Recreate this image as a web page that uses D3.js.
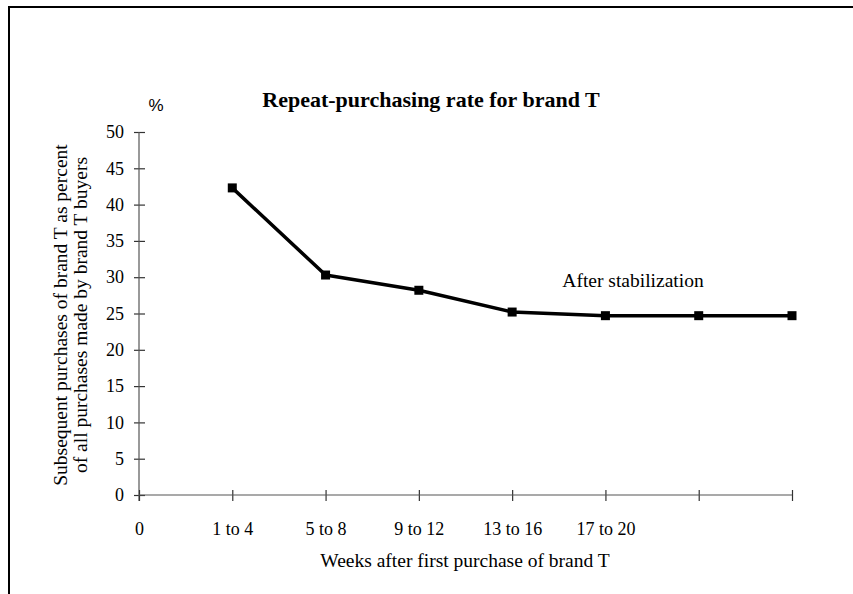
<!DOCTYPE html>
<html>
<head>
<meta charset="utf-8">
<script src="https://cdn.jsdelivr.net/npm/d3@7"></script>
<style>
  html, body { margin: 0; padding: 0; background: #fff; }
  svg { display: block; }
  text { font-family: "Liberation Serif", "Times New Roman", serif; fill: #000; }
</style>
</head>
<body>
<svg id="chart" width="853" height="594"></svg>
<script>
// Repeat-purchasing rate by weeks after first purchase
const periods = ["0", "1 to 4", "5 to 8", "9 to 12", "13 to 16", "17 to 20", "p7", "p8"];
const periodLabels = ["0", "1 to 4", "5 to 8", "9 to 12", "13 to 16", "17 to 20", "", ""];
const pointPeriods = ["1 to 4", "5 to 8", "9 to 12", "13 to 16", "17 to 20", "p7", "p8"];
const repeatRate = [42.3, 30.3, 28.2, 25.2, 24.7, 24.7, 24.7];
const yTicks = [0, 5, 10, 15, 20, 25, 30, 35, 40, 45, 50];

const svg = d3.select("#chart");

// frame: top and left edges
svg.append("line").attr("x1", 9).attr("y1", 7).attr("x2", 853).attr("y2", 7)
  .attr("stroke", "#000").attr("stroke-width", 2);
svg.append("line").attr("x1", 9).attr("y1", 6).attr("x2", 9).attr("y2", 594)
  .attr("stroke", "#000").attr("stroke-width", 2);

const x = d3.scalePoint().domain(periods).range([139, 792]);
const y = d3.scaleLinear().domain([0, 50]).range([495, 132]);

const axisColor = "#555";

// y axis
const yAxis = svg.append("g").attr("transform", "translate(139,0)")
  .call(d3.axisLeft(y).tickValues(yTicks).tickSize(5).tickPadding(10).tickFormat(d3.format("d")));
yAxis.select(".domain").remove();
yAxis.append("line").attr("x1", 0).attr("x2", 0).attr("y1", y(50)).attr("y2", 501)
  .attr("stroke", axisColor).attr("stroke-width", 1.2);
yAxis.selectAll(".tick line").attr("x1", -5).attr("x2", 6).attr("stroke", "#333").attr("stroke-width", 1.2);
yAxis.selectAll(".tick text").style("font-size", "18px").style("font-family", "Liberation Serif, serif").attr("fill", "#000");

// x axis
const xAxis = svg.append("g").attr("transform", "translate(0,495)")
  .call(d3.axisBottom(x).tickFormat((d, i) => periodLabels[i]).tickSize(6).tickPadding(21));
xAxis.select(".domain").remove();
xAxis.append("line").attr("x1", 139).attr("x2", 792).attr("y1", 0).attr("y2", 0)
  .attr("stroke", axisColor).attr("stroke-width", 1.2);
xAxis.selectAll(".tick line").attr("y1", -5).attr("y2", 6).attr("stroke", "#333").attr("stroke-width", 1.2);
xAxis.selectAll(".tick text").style("font-size", "18px").style("font-family", "Liberation Serif, serif").attr("fill", "#000");

// series line
const pts = pointPeriods.map((p, i) => [x(p), y(repeatRate[i])]);
svg.append("path").datum(pts)
  .attr("d", d3.line())
  .attr("fill", "none").attr("stroke", "#000").attr("stroke-width", 3.5)
  .attr("stroke-linejoin", "round");

svg.selectAll("rect.marker").data(pts).join("rect")
  .attr("class", "marker")
  .attr("x", d => d[0] - 4.5).attr("y", d => d[1] - 4.5)
  .attr("width", 9).attr("height", 9).attr("fill", "#000");

// titles and annotations
svg.append("text").attr("x", 431).attr("y", 107).attr("text-anchor", "middle")
  .style("font-size", "22px").style("font-weight", "bold")
  .text("Repeat-purchasing rate for brand T");

svg.append("text").attr("x", 156).attr("y", 111).attr("text-anchor", "middle")
  .style("font-size", "17px").style("font-family", "Liberation Sans, Arial, sans-serif")
  .text("%");

svg.append("text").attr("x", 633).attr("y", 287).attr("text-anchor", "middle")
  .style("font-size", "19.5px").text("After stabilization");

svg.append("text").attr("x", 465).attr("y", 567).attr("text-anchor", "middle")
  .style("font-size", "19.5px").text("Weeks after first purchase of brand T");

const yTitle = svg.append("text").attr("transform", "translate(0,315) rotate(-90)")
  .attr("text-anchor", "middle").style("font-size", "19.5px");
yTitle.append("tspan").attr("x", 0).attr("y", 67).text("Subsequent purchases of brand T as percent");
yTitle.append("tspan").attr("x", 0).attr("y", 87).text("of all purchases made by brand T buyers");
</script>
</body>
</html>
